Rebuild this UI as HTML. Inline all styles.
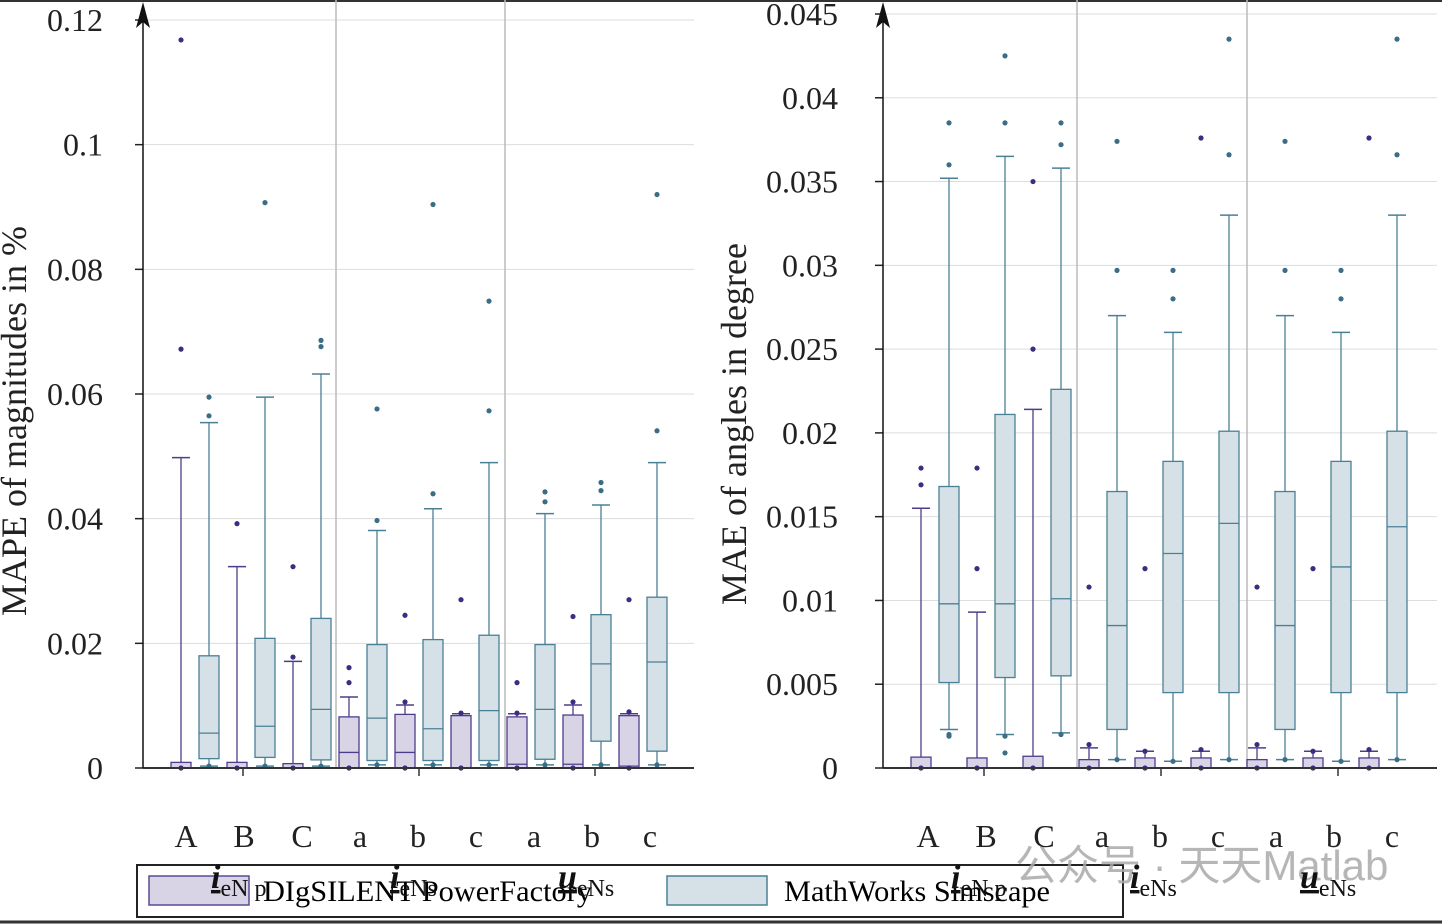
<!DOCTYPE html>
<html><head><meta charset="utf-8"><style>
body{margin:0;background:#fff;}
svg{display:block;font-family:"Liberation Serif",serif;}
</style></head><body>
<svg id="c" width="1442" height="924" viewBox="0 0 1442 924" xmlns="http://www.w3.org/2000/svg">
<rect x="0" y="0" width="1442" height="924" fill="#fff"/>
<line x1="0" y1="1" x2="1442" y2="1" stroke="#333" stroke-width="2"/>
<line x1="0" y1="922" x2="1442" y2="922" stroke="#333" stroke-width="3"/>
<g>
<rect x="137" y="865" width="986" height="52" fill="#fff" stroke="#222" stroke-width="2"/>
<rect x="149" y="876" width="100" height="29" fill="#d8d4e6" stroke="#5a4a96" stroke-width="1.5"/>
<text x="263" y="901" font-size="30" textLength="329" lengthAdjust="spacingAndGlyphs">DIgSILENT PowerFactory</text>
<rect x="667" y="876" width="100" height="29" fill="#d5e1e6" stroke="#4a8096" stroke-width="1.5"/>
<text x="784" y="901" font-size="30" textLength="266" lengthAdjust="spacingAndGlyphs">MathWorks Simscape</text>
</g>
<text x="1015" y="880" font-size="42" fill="#aaa" opacity="0.85" font-family="Liberation Sans, Noto Sans CJK SC, sans-serif">公众号 · 天天Matlab</text>
<g id="L"></g>
<g id="R"></g>
</svg>
<script>
const NS='http://www.w3.org/2000/svg';
function mk(p,t,a){const e=document.createElementNS(NS,t);for(const k in a)e.setAttribute(k,a[k]);p.appendChild(e);return e;}

// ---- LEFT chart data (MAPE %) ----
const catsL=['A','B','C','a','b','c','a','b','c'];
// [q1, median, q3, whiskerLow, whiskerHigh]
const pfL=[[0,0,0.0009,0,0.0498],[0,0,0.0009,0,0.0323],[0,0,0.0007,0,0.0171],[0,0.0025,0.0082,0,0.0114],[0,0.0025,0.0086,0,0.0101],[0,0,0.0084,0,0.0087],[0,0.0006,0.0082,0,0.0087],[0,0.0006,0.0085,0,0.0101],[0,0.0003,0.0084,0,0.0087]];
const pfOutL=[[0,0.0672,0.1168],[0,0.0392],[0,0.0178,0.0323],[0,0.0137,0.0161],[0,0.0106,0.0245],[0,0.0088,0.027],[0,0.0088,0.0137],[0,0.0106,0.0243],[0,0.009,0.027]];
const msL=[[0.0015,0.0056,0.018,0.0003,0.0554],[0.0017,0.0067,0.0208,0.0003,0.0595],[0.0013,0.0094,0.024,0.0003,0.0632],[0.0012,0.008,0.0198,0.0005,0.0381],[0.0012,0.0063,0.0206,0.0005,0.0416],[0.0012,0.0092,0.0213,0.0005,0.049],[0.0014,0.0094,0.0198,0.0005,0.0408],[0.0043,0.0167,0.0246,0.0005,0.0422],[0.0027,0.017,0.0274,0.0005,0.049]];
const msOutL=[[0.0003,0.0565,0.0595],[0.0003,0.0907],[0.0003,0.0676,0.0686],[0.0005,0.0397,0.0576],[0.0005,0.044,0.0904],[0.0005,0.0573,0.0749],[0.0005,0.0427,0.0443],[0.0005,0.0445,0.0458],[0.0005,0.0541,0.092]];
const ticksL=[0,0.02,0.04,0.06,0.08,0.1,0.12];
const tickLabL=['0','0.02','0.04','0.06','0.08','0.1','0.12'];

// ---- RIGHT chart data (MAE deg) ----
const catsR=['A','B','C','a','b','c','a','b','c'];
const pfR=[[0,0,0.00065,0,0.0155],[0,0,0.0006,0,0.0093],[0,0,0.0007,0,0.0214],[0,0,0.0005,0,0.0012],[0,0,0.0006,0,0.001],[0,0,0.0006,0,0.001],[0,0,0.0005,0,0.0012],[0,0,0.0006,0,0.001],[0,0,0.0006,0,0.001]];
const pfOutR=[[0,0.0169,0.0179],[0,0.0119,0.0179],[0,0.025,0.035],[0,0.0014,0.0108],[0,0.001,0.0119],[0,0.0011,0.0376],[0,0.0014,0.0108],[0,0.001,0.0119],[0,0.0011,0.0376]];
const msR=[[0.0051,0.0098,0.0168,0.0023,0.0352],[0.0054,0.0098,0.0211,0.002,0.0365],[0.0055,0.0101,0.0226,0.0021,0.0358],[0.0023,0.0085,0.0165,0.0005,0.027],[0.0045,0.0128,0.0183,0.0004,0.026],[0.0045,0.0146,0.0201,0.0005,0.033],[0.0023,0.0085,0.0165,0.0005,0.027],[0.0045,0.012,0.0183,0.0004,0.026],[0.0045,0.0144,0.0201,0.0005,0.033]];
const msOutR=[[0.002,0.0019,0.036,0.0385],[0.0019,0.0009,0.0385,0.0425],[0.002,0.0372,0.0385],[0.0005,0.0297,0.0374],[0.0004,0.028,0.0297],[0.0005,0.0366,0.0435],[0.0005,0.0297,0.0374],[0.0004,0.028,0.0297],[0.0005,0.0366,0.0435]];
const ticksR=[0,0.005,0.01,0.015,0.02,0.025,0.03,0.035,0.04,0.045];
const tickLabR=['0','0.005','0.01','0.015','0.02','0.025','0.03','0.035','0.04','0.045'];

const PF={fill:'#d8d4e6',stroke:'#4f3d8c',dot:'#3d2d80'};
const MS={fill:'#d5e1e6',stroke:'#4a8096',dot:'#3b6e85'};

function chart(g,o){
  const y=v=>o.y0-(v/o.vmax)*(o.y0-o.ytop);
  o.ticks.forEach((t,i)=>{
    if(t>0){const gl=mk(g,'line',{x1:o.x0,x2:o.x1,y1:y(t),y2:y(t),stroke:'#ddd','stroke-width':1});
    }
    const tk=mk(g,'line',{x1:o.x0-8,x2:o.x0,y1:y(t),y2:y(t),stroke:'#222','stroke-width':1.5});
    
    const tl=mk(g,'text',{x:o.x0-o.labOff,y:y(t)+11,'font-size':32,'text-anchor':'end',fill:'#222'});
    tl.textContent=o.tickLab[i];
    
  });
  o.seps.forEach(sx=>{const s=mk(g,'line',{x1:sx,x2:sx,y1:0,y2:o.y0,stroke:'#bbb','stroke-width':1.5});
    });
  const n=o.cats.length;
  for(let i=0;i<n;i++){
    [[o.pf[i],o.pfOut[i],PF,0,'powerfactory'],[o.ms[i],o.msOut[i],MS,28,'simscape']].forEach(([d,out,c,off,nm])=>{
      const cx=o.xs+i*o.dx+off, w=10;
      const b=mk(g,'g',{});
      
      
      mk(b,'line',{x1:cx,x2:cx,y1:y(d[2]),y2:y(d[4]),stroke:c.stroke,'stroke-width':1.3});
      mk(b,'line',{x1:cx-9,x2:cx+9,y1:y(d[4]),y2:y(d[4]),stroke:c.stroke,'stroke-width':1.5});
      mk(b,'line',{x1:cx,x2:cx,y1:y(d[0]),y2:y(d[3]),stroke:c.stroke,'stroke-width':1.3});
      mk(b,'line',{x1:cx-9,x2:cx+9,y1:y(d[3]),y2:y(d[3]),stroke:c.stroke,'stroke-width':1.5});
      const h=Math.max(y(d[0])-y(d[2]),1);
      mk(b,'rect',{x:cx-w,y:y(d[2]),width:2*w,height:h,fill:c.fill,stroke:c.stroke,'stroke-width':1.3});
      mk(b,'line',{x1:cx-w,x2:cx+w,y1:y(d[1]),y2:y(d[1]),stroke:c.stroke,'stroke-width':1.3});
      out.forEach(v=>{const p=mk(g,'circle',{cx:cx,cy:y(v),r:2.6,fill:c.dot});
        });
    });
    const cl=mk(g,'text',{x:o.lx0+i*o.ldx,y:847,'font-size':32,'text-anchor':'middle',fill:'#222'});
    cl.textContent=o.cats[i];
    
  }
  const ax=mk(g,'line',{x1:o.x0,x2:o.x1,y1:o.y0,y2:o.y0,stroke:'#333','stroke-width':2});
  
  o.xt.forEach(t=>{const l=mk(g,'line',{x1:t,x2:t,y1:o.y0,y2:o.y0+8,stroke:'#333','stroke-width':1.5});
    });
  const ya=mk(g,'line',{x1:o.x0,x2:o.x0,y1:o.y0,y2:8,stroke:'#111','stroke-width':1.5});
  
  const ar=mk(g,'path',{d:`M${o.x0} 2 L${o.x0-7} 28 L${o.x0} 22 L${o.x0+7} 28 Z`,fill:'#111'});
  
  const t=mk(g,'text',{x:0,y:0,'font-size':36,'text-anchor':'middle',fill:'#222',transform:`translate(${o.titleX},${o.titleY}) rotate(-90)`});
  t.textContent=o.title;
  
  o.groups.forEach(([gx,sub])=>{
    const tg=mk(g,'text',{x:gx,y:888,'font-size':34,fill:'#111'});
    
    const a=mk(tg,'tspan',{'font-style':'italic','font-weight':'bold','text-decoration':'underline'});a.textContent=sub[0];
    const b=mk(tg,'tspan',{'font-size':24,dy:8});b.textContent=sub[1];
  });
}
chart(document.getElementById('L'),{x0:143,x1:694,y0:768,ytop:20,vmax:0.12,labOff:40,ticks:ticksL,tickLab:tickLabL,cats:catsL,
  pf:pfL,pfOut:pfOutL,ms:msL,msOut:msOutL,xs:181,dx:56,lx0:186,ldx:58,seps:[336,505],xt:[243,419,595],
  title:'MAPE of magnitudes in %',titleX:26,titleY:421,groups:[[211,['i','eN p']],[390,['i','eNs']],[558,['u','eNs']]]});
chart(document.getElementById('R'),{x0:883,x1:1437,y0:768,ytop:14,vmax:0.045,labOff:45,ticks:ticksR,tickLab:tickLabR,cats:catsR,
  pf:pfR,pfOut:pfOutR,ms:msR,msOut:msOutR,xs:921,dx:56,lx0:928,ldx:58,seps:[1077,1247],xt:[984,1161,1338],
  title:'MAE of angles in degree',titleX:746,titleY:424,groups:[[951,['i','eN p']],[1130,['i','eNs']],[1300,['u','eNs']]]});
</script>
</body></html>
